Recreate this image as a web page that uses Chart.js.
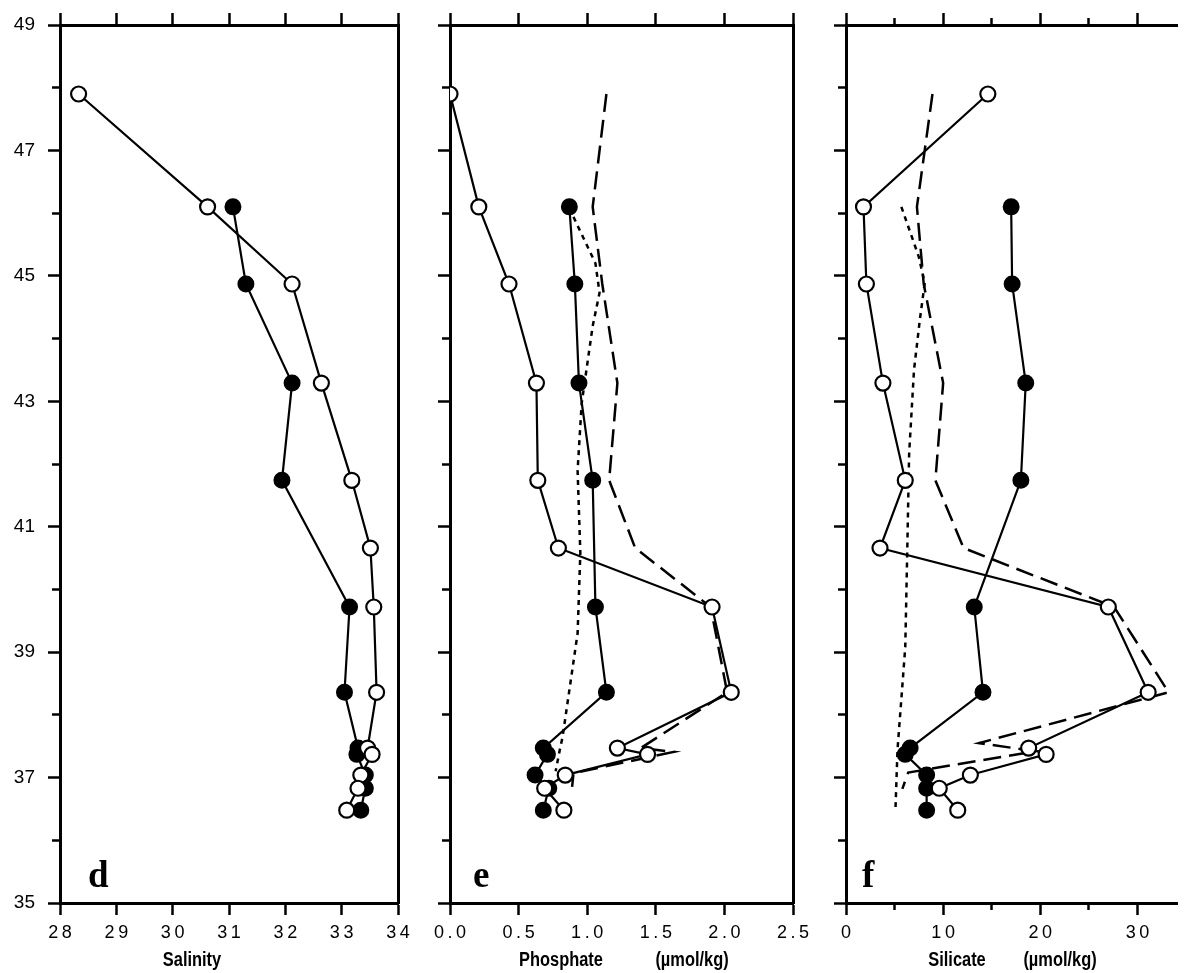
<!DOCTYPE html>
<html><head><meta charset="utf-8">
<script src="https://cdn.jsdelivr.net/npm/chart.js@4.4.1/dist/chart.umd.min.js"></script>
<style>
html,body{margin:0;padding:0;background:#fff;}
#wrap{position:relative;width:1187px;height:973px;overflow:hidden;background:#fff;}
canvas{position:absolute;top:0;}
</style></head><body>
<div id="wrap">
<canvas id="cd" width="420" height="973" style="left:0px"></canvas>
<canvas id="ce" width="400" height="973" style="left:420px"></canvas>
<canvas id="cf" width="367" height="973" style="left:820px"></canvas>
</div>
<script>
// ---------- data ----------
const latOpen   = [47.90, 46.10, 44.87, 43.29, 41.74, 40.66, 39.72, 38.36, 37.47, 37.37, 37.04, 36.83, 36.48];
const latFilled = [46.10, 44.87, 43.29, 41.74, 39.72, 38.36, 37.47, 37.37, 37.04, 36.83, 36.48];

const salinityOpen   = [28.33, 30.62, 32.12, 32.64, 33.18, 33.51, 33.57, 33.62, 33.46, 33.54, 33.34, 33.29, 33.09];
const salinityFilled = [31.07, 31.30, 32.12, 31.94, 33.14, 33.05, 33.29, 33.27, 33.42, 33.42, 33.34];

const phosphateOpen   = [0.00, 0.21, 0.43, 0.63, 0.64, 0.79, 1.91, 2.05, 1.22, 1.44, 0.84, 0.69, 0.83];
const phosphateFilled = [0.87, 0.91, 0.94, 1.04, 1.06, 1.14, 0.68, 0.71, 0.62, 0.72, 0.68];
const phosDashLat = [47.90, 46.10, 44.87, 43.29, 41.74, 40.66, 39.72, 38.36, 37.47, 37.41, 37.07, 36.85];
const phosDashVal = [1.14, 1.04, 1.11, 1.22, 1.16, 1.35, 1.90, 2.02, 1.39, 1.63, 0.90, 0.89];
const phosDotLat  = [45.94, 45.20, 44.73, 44.20, 42.97, 41.90, 40.58, 39.30, 37.64, 37.44, 37.10];
const phosDotVal  = [0.90, 1.06, 1.09, 1.04, 0.96, 0.93, 0.95, 0.93, 0.82, 0.80, 0.77];

const silicateOpen   = [14.6, 1.8, 2.1, 3.8, 6.1, 3.5, 27.0, 31.1, 18.8, 20.6, 12.8, 9.6, 11.5];
const silicateFilled = [17.0, 17.1, 18.5, 18.0, 13.2, 14.1, 6.6, 6.1, 8.3, 8.3, 8.3];
const silDashLat = [47.90, 46.10, 44.87, 43.29, 41.74, 40.66, 39.72, 38.36, 37.55, 37.42, 37.08, 36.82];
const silDashVal = [8.9, 7.3, 8.0, 10.0, 9.2, 12.1, 27.6, 33.2, 13.7, 19.5, 6.4, 5.8];
const silDotLat  = [46.10, 45.30, 44.88, 44.30, 43.50, 42.17, 40.58, 39.08, 37.44, 36.53];
const silDotVal  = [5.7, 7.5, 8.1, 7.6, 7.0, 6.5, 6.3, 6.1, 5.3, 5.1];

// ---------- ticks ----------
const latMajorTicks  = [35, 37, 39, 41, 43, 45, 47, 49];
const latMajorLabels = ['35', '37', '39', '41', '43', '45', '47', '49'];
const latMinorTicks  = [36, 38, 40, 42, 44, 46, 48];
const salinityTicks  = [28, 29, 30, 31, 32, 33, 34];
const salinityLabels = ['28', '29', '30', '31', '32', '33', '34'];
const phosphateTicks  = [0, 0.5, 1.0, 1.5, 2.0, 2.5];
const phosphateLabels = ['0.0', '0.5', '1.0', '1.5', '2.0', '2.5'];
const silicateMajorTicks  = [0, 10, 20, 30];
const silicateMajorLabels = ['0', '10', '20', '30'];
const silicateMinorTicks  = [5, 15, 25];

// ---------- helpers ----------
const BLACK = '#000';
const LAT_MIN = 35, LAT_MAX = 49;
const pts = (xs, ys) => xs.map((v, i) => ({x: v, y: ys[i]}));
const spaced = s => s.split('').join('\u2009');

function axis(o) {
  return {
    type: 'linear', position: o.position, min: o.min, max: o.max, weight: o.weight || 0,
    afterBuildTicks: o.values ? (s => { s.ticks = o.values.map(v => ({value: v})); }) : undefined,
    afterFit: s => { if (s.isHorizontal()) s.height = o.size; else s.width = o.size; },
    grid: {display: true, drawOnChartArea: false, drawTicks: !!o.tickLength,
           tickLength: o.tickLength || 0, tickWidth: 2.5, tickColor: BLACK, color: BLACK},
    border: {display: !!o.border, width: 3, color: BLACK},
    ticks: {
      display: !!o.labels, color: BLACK, padding: o.padding || 0,
      font: o.font || {family: "'Liberation Sans', Arial, sans-serif", size: 18},
      callback: (v, i) => o.labels ? (o.spaced ? spaced(o.labels[i]) : o.labels[i]) : ''
    }
  };
}

const textPlugin = {
  id: 'panelText',
  afterDraw(chart, args, opts) {
    const ctx = chart.ctx, ca = chart.chartArea;
    ctx.save();
    ctx.fillStyle = BLACK;
    ctx.textBaseline = 'alphabetic';
    ctx.textAlign = 'left';
    ctx.font = "bold 37px 'Liberation Serif', 'Times New Roman', serif";
    ctx.fillText(opts.letter, ca.left + opts.letterDx, 887);
    ctx.textAlign = 'center';
    ctx.font = "bold 20px 'Liberation Sans', Arial, sans-serif";
    (opts.titles || []).forEach(t => {
      ctx.save();
      ctx.translate(t.x, 966);
      ctx.scale(0.82, 1);
      ctx.fillText(t.text, 0, 0);
      ctx.restore();
    });
    ctx.restore();
  }
};

function seriesDatasets(xOpen, xFilled, extra) {
  const ds = [
    {data: pts(xOpen, latOpen), showLine: true, borderColor: BLACK, borderWidth: 2.2,
     pointRadius: 7.5, pointBorderWidth: 2.2, pointBackgroundColor: '#fff', pointBorderColor: BLACK},
    {data: pts(xFilled, latFilled), showLine: true, borderColor: BLACK, borderWidth: 2.2,
     pointRadius: 7.5, pointBorderWidth: 2, pointBackgroundColor: BLACK, pointBorderColor: BLACK}
  ];
  return ds.concat(extra || []);
}
function dashed(vals, lats) {
  return {data: pts(vals, lats), showLine: true, borderColor: BLACK, borderWidth: 2.5,
          borderDash: [18, 8], pointRadius: 0};
}
function dotted(vals, lats) {
  return {data: pts(vals, lats), showLine: true, borderColor: BLACK, borderWidth: 2.5,
          borderDash: [5, 5], pointRadius: 0};
}

function build(id, cfg) {
  const scales = {
    x: axis({position: 'bottom', min: cfg.xmin, max: cfg.xmax, weight: 1, size: 70,
             values: cfg.xMajor, labels: cfg.xLabels, spaced: true, tickLength: cfg.xMajorLen,
             border: true, padding: 7}),
    xTop: axis({position: 'top', min: cfg.xmin, max: cfg.xmax, weight: 1, size: 25,
                values: cfg.xMajor, tickLength: cfg.xMajorLen, border: true}),
    y: axis({position: 'left', min: LAT_MIN, max: LAT_MAX, weight: 1, size: cfg.left,
             values: latMajorTicks, labels: cfg.yLabels ? latMajorLabels : null,
             tickLength: 12, border: true, padding: 13,
             font: {family: "'Liberation Sans', Arial, sans-serif", size: 19}}),
    yMinor: axis({position: 'left', min: LAT_MIN, max: LAT_MAX, weight: 0, size: 0,
                  values: latMinorTicks, tickLength: 8})
  };
  if (cfg.right) {
    scales.yRight = axis({position: 'right', min: LAT_MIN, max: LAT_MAX, weight: 1,
                          size: cfg.right, border: true});
  }
  if (cfg.xMinor) {
    scales.xMinor = axis({position: 'bottom', min: cfg.xmin, max: cfg.xmax, weight: 0, size: 0,
                          values: cfg.xMinor, tickLength: 7});
    scales.xTopMinor = axis({position: 'top', min: cfg.xmin, max: cfg.xmax, weight: 0, size: 0,
                             values: cfg.xMinor, tickLength: 7});
  }
  return new Chart(document.getElementById(id), {
    type: 'scatter',
    data: {datasets: cfg.datasets},
    options: {
      responsive: false, animation: false, devicePixelRatio: 1, events: [],
      layout: {padding: 0},
      elements: {line: {tension: 0}},
      plugins: {legend: {display: false}, tooltip: {enabled: false},
                panelText: {letter: cfg.letter, letterDx: cfg.letterDx, titles: cfg.titles}},
      scales: scales
    },
    plugins: [textPlugin]
  });
}

build('cd', {
  xmin: 28, xmax: 34, xMajor: salinityTicks, xLabels: salinityLabels, xMajorLen: 12,
  left: 60, right: 22, yLabels: true,
  letter: 'd', letterDx: 28, titles: [{text: 'Salinity', x: 192}],
  datasets: seriesDatasets(salinityOpen, salinityFilled)
});
build('ce', {
  xmin: 0, xmax: 2.5, xMajor: phosphateTicks, xLabels: phosphateLabels, xMajorLen: 12,
  left: 30, right: 27, yLabels: false,
  letter: 'e', letterDx: 23,
  titles: [{text: 'Phosphate', x: 141}, {text: '(\u00b5mol/kg)', x: 272}],
  datasets: seriesDatasets(phosphateOpen, phosphateFilled,
    [dashed(phosDashVal, phosDashLat), dotted(phosDotVal, phosDotLat)])
});
build('cf', {
  xmin: 0, xmax: 34.1, xMajor: silicateMajorTicks, xLabels: silicateMajorLabels, xMajorLen: 12,
  xMinor: silicateMinorTicks,
  left: 26, right: 0, yLabels: false,
  letter: 'f', letterDx: 16,
  titles: [{text: 'Silicate', x: 137}, {text: '(\u00b5mol/kg)', x: 240}],
  datasets: seriesDatasets(silicateOpen, silicateFilled,
    [dashed(silDashVal, silDashLat), dotted(silDotVal, silDotLat)])
});
</script>
</body></html>
